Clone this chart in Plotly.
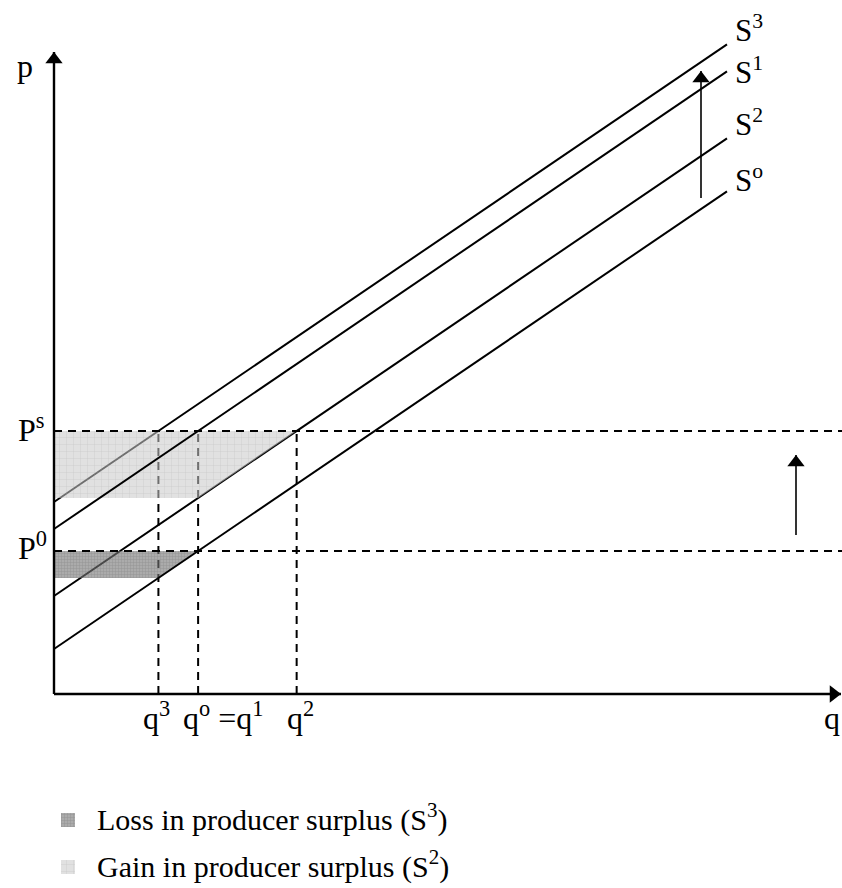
import plotly.graph_objects as go

# ---------------- data ----------------
supply_names = ["S<sup>3</sup>", "S<sup>1</sup>", "S<sup>2</sup>", "S<sup>o</sup>"]
supply_intercepts = [192, 165, 98, 45]      # price at q = 0
supply_slope = 0.68
q_end = 673
P0 = 143
Ps = 263
legend_labels = ["Loss in producer surplus (S<sup>3</sup>)",
                 "Gain in producer surplus (S<sup>2</sup>)"]

# pixel helpers (origin of the axes at pixel (54, 694))
OX, OY = 54, 694
def X(px): return px - OX
def Y(py): return OY - py

a3, a1, a2, a0 = supply_intercepts
def S(a, q): return a + supply_slope * q

q3 = (Ps - a3) / supply_slope
q1 = (Ps - a1) / supply_slope
q0 = (P0 - a0) / supply_slope
q2 = (Ps - a2) / supply_slope

FONT = "Liberation Serif, Times New Roman, serif"
fig = go.Figure()

def line(a, width=2, color="black"):
    fig.add_trace(go.Scatter(x=[0, q_end], y=[S(a, 0), S(a, q_end)], mode="lines",
                             line=dict(color=color, width=width), hoverinfo="skip",
                             showlegend=False))

def dashed(xs, ys):
    fig.add_trace(go.Scatter(x=xs, y=ys, mode="lines",
                             line=dict(color="black", width=2, dash="8px,6px"),
                             hoverinfo="skip", showlegend=False))

# lines under the fills
line(a3)
line(a2)
for qq in (q3, q0, q2):
    dashed([qq, qq], [0, Ps])

light = dict(fill="toself", fillcolor="rgba(195,195,195,0.55)",
             fillpattern=dict(shape="+", size=7, solidity=0.12,
                              fgcolor="rgba(160,160,160,0.7)", bgcolor="rgba(200,200,200,0.55)"))
dark = dict(fill="toself", fillcolor="rgba(105,105,105,0.6)",
            fillpattern=dict(shape="+", size=3, solidity=0.3,
                             fgcolor="rgba(90,90,90,0.6)", bgcolor="rgba(115,115,115,0.6)"))

# gain region (light)
yb = S(a2, q1)
fig.add_trace(go.Scatter(x=[0, q2, q1, 0, 0], y=[Ps, Ps, yb, yb, Ps], mode="none",
                         hoverinfo="skip", showlegend=False, **light))
# loss region (dark)
yl = S(a0, q3)
fig.add_trace(go.Scatter(x=[0, q0, q3, 0, 0], y=[P0, P0, yl, yl, P0], mode="none",
                         hoverinfo="skip", showlegend=False, **dark))

# lines over the fills
line(a1)
line(a0)
dashed([0, X(842)], [Ps, Ps])
dashed([0, X(842)], [P0, P0])

# legend rows
LEG_Y = [820, 867]
for i, sty in enumerate((dark, light)):
    cy = Y(LEG_Y[i])
    x0, x1 = X(61), X(75)
    fig.add_trace(go.Scatter(x=[x0, x1, x1, x0, x0], y=[cy - 7, cy - 7, cy + 7, cy + 7, cy - 7],
                             mode="none", hoverinfo="skip", showlegend=False, **sty))

def arrow(x0, y0, x1, y1, w=2, head=14, sym="triangle-up"):
    fig.add_trace(go.Scatter(x=[x0, x1], y=[y0, y1], mode="lines",
                             line=dict(color="black", width=w), hoverinfo="skip",
                             showlegend=False))
    r = head / 2
    if sym == "triangle-up":
        cx, cy = x1, y1 - r
    else:
        cx, cy = x1 - r, y1
    fig.add_trace(go.Scatter(x=[cx], y=[cy], mode="markers",
                             marker=dict(symbol=sym, size=head, color="black",
                                         line=dict(width=0)),
                             hoverinfo="skip", showlegend=False))

# axes
arrow(0, 0, 0, Y(52), w=2.4, head=15)
arrow(0, 0, X(841), 0, w=2.4, head=15, sym="triangle-right")
# shift arrows
arrow(X(701), Y(198), X(701), Y(71), w=1.6, head=15)
arrow(X(796), Y(535), X(796), Y(455), w=1.6, head=15)

ann = []
def label(x, y, t, size=32, xanchor="center"):
    ann.append(dict(x=x, y=y, xref="x", yref="y", text=t, showarrow=False,
                    font=dict(family=FONT, size=size, color="black"),
                    xanchor=xanchor, yanchor="middle"))

label(X(25), Y(66), "p")
label(X(832), Y(718), "q")
label(X(16), Y(428), "P<sup>s</sup>", xanchor="left")
label(X(16), Y(546), "P<sup>0</sup>", xanchor="left")
label(X(141), Y(716), "q<sup>3</sup>", xanchor="left")
label(X(181), Y(716), "q<sup>o</sup> =q<sup>1</sup>", xanchor="left")
label(X(285), Y(716), "q<sup>2</sup>", xanchor="left")
for name, ypix in zip(supply_names, (28, 70, 122, 178)):
    label(q_end + 6, Y(ypix), name, size=31, xanchor="left")
for i, t in enumerate(legend_labels):
    label(X(95), Y(LEG_Y[i] - 3), t, size=30, xanchor="left")

fig.update_layout(
    width=842, height=888, margin=dict(l=0, r=0, t=0, b=0),
    paper_bgcolor="white", plot_bgcolor="white",
    xaxis=dict(range=[X(0), X(842)], visible=False, fixedrange=True),
    yaxis=dict(range=[Y(888), Y(0)], visible=False, fixedrange=True),
    annotations=ann, showlegend=False,
)
fig.write_html("out.html", config={"displayModeBar": False, "staticPlot": True},
               post_script="document.body.style.margin='0';document.body.style.overflow='hidden';")
